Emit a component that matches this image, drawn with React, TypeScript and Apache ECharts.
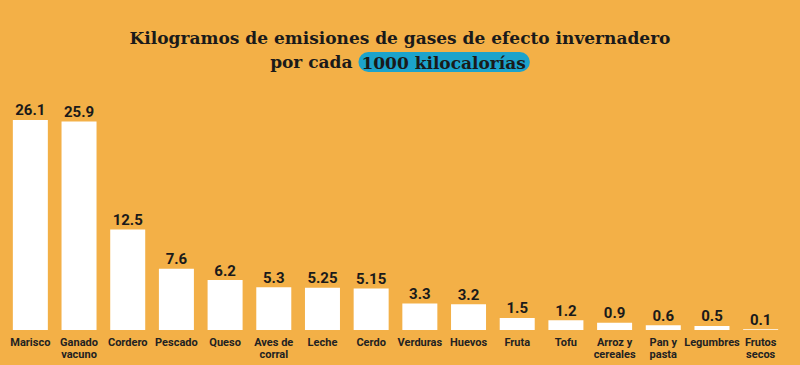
import React, { useEffect, useRef } from "react";
import * as echarts from "echarts";

const categories = [
  "Marisco",
  "Ganado\nvacuno",
  "Cordero",
  "Pescado",
  "Queso",
  "Aves de\ncorral",
  "Leche",
  "Cerdo",
  "Verduras",
  "Huevos",
  "Fruta",
  "Tofu",
  "Arroz y\ncereales",
  "Pan y\npasta",
  "Legumbres",
  "Frutos\nsecos",
];
const values = [26.1, 25.9, 12.5, 7.6, 6.2, 5.3, 5.25, 5.15, 3.3, 3.2, 1.5, 1.2, 0.9, 0.6, 0.5, 0.1];
const valueLabels = ["26.1", "25.9", "12.5", "7.6", "6.2", "5.3", "5.25", "5.15", "3.3", "3.2", "1.5", "1.2", "0.9", "0.6", "0.5", "0.1"];

export default function App() {
  const ref = useRef<HTMLDivElement>(null);
  useEffect(() => {
    const chart = echarts.init(ref.current!, null, { renderer: "svg" });
    const serif = "DejaVu Serif";
    chart.setOption({
      animation: false,
      backgroundColor: "#F3B047",
      title: {
        left: "center",
        top: 21,
        text: "Kilogramos de emisiones de gases de efecto invernadero\n{p|por cada }{h|1000 kilocalorías}",
        textStyle: {
          fontFamily: serif,
          fontWeight: "bold",
          fontSize: 17,
          color: "#1a1a1a",
          lineHeight: 24,
          rich: {
            p: {
              fontFamily: serif,
              fontWeight: "bold",
              fontSize: 17,
              color: "#1a1a1a",
              lineHeight: 24,
            },
            h: {
              fontFamily: serif,
              fontWeight: "bold",
              fontSize: 17,
              color: "#1a1a1a",
              backgroundColor: "#1CA3CB",
              borderRadius: 11,
              padding: [2, 4, 1, 3],
              lineHeight: 21,
            },
          },
        },
      },
      grid: { left: 6, right: 15, top: 88.5, bottom: 35 },
      xAxis: {
        type: "category",
        data: categories,
        axisLine: { show: false },
        axisTick: { show: false },
        axisLabel: {
          interval: 0,
          margin: 6,
          fontFamily: "Roboto",
          fontWeight: "bold",
          fontSize: 11,
          lineHeight: 12,
          color: "#222",
        },
      },
      yAxis: {
        type: "value",
        min: 0,
        max: 30,
        show: false,
        splitLine: { show: false },
      },
      series: [
        {
          type: "bar",
          data: values,
          barWidth: 35,
          itemStyle: { color: "#ffffff" },
          label: {
            show: true,
            position: "top",
            distance: 2,
            fontFamily: "Roboto",
            fontWeight: "bold",
            fontSize: 15,
            color: "#1a1a1a",
            formatter: (p: any) => valueLabels[p.dataIndex],
          },
        },
      ],
    });
    return () => chart.dispose();
  }, []);
  return <div ref={ref} style={{ width: 800, height: 365, position: "absolute", left: 0, top: 0 }} />;
}
